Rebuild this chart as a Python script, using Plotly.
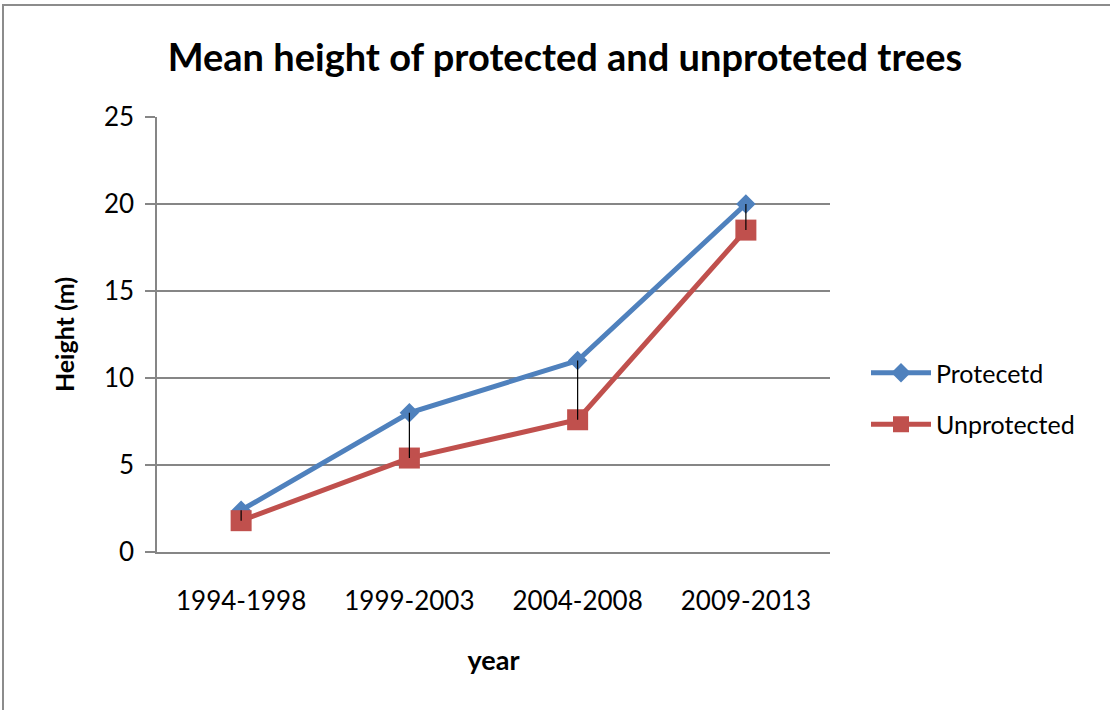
import plotly.graph_objects as go

categories = ["1994-1998", "1999-2003", "2004-2008", "2009-2013"]
protected = [2.4, 8.0, 11.0, 20.0]
unprotected = [1.8, 5.4, 7.6, 18.5]
y_ticks = [0, 5, 10, 15, 20, 25]

FONT = "Lato"
BLUE = "#4F81BD"
RED = "#C0504D"
GRID = "#868686"

fig = go.Figure()

fig.add_trace(go.Scatter(
    x=categories, y=protected, name="Protecetd", mode="lines+markers",
    line=dict(color=BLUE, width=5),
    marker=dict(symbol="diamond", size=15, color=BLUE),
    legendgroup="p",
))
fig.add_trace(go.Scatter(
    x=categories, y=unprotected, name="Unprotected", mode="lines+markers",
    line=dict(color=RED, width=5),
    marker=dict(symbol="square", size=21, color=RED),
    legendgroup="u",
))

# high-low lines connecting the two series
hx, hy = [], []
for c, p, u in zip(categories, protected, unprotected):
    hx += [c, c, None]
    hy += [p, u, None]
fig.add_trace(go.Scatter(
    x=hx, y=hy, mode="lines", line=dict(color="black", width=1.2),
    showlegend=False, hoverinfo="skip",
))

L, R, T, B = 157, 280, 117, 158
W, H = 1110, 710
pw, ph = W - L - R, H - T - B

fig.add_shape(
    type="rect", xref="paper", yref="paper",
    x0=(3 - L) / pw, x1=(W + 40 - L) / pw,
    y0=(H - B - (H + 40)) / ph, y1=(H - B - 5) / ph,
    line=dict(color="#8C8C8C", width=2), fillcolor="rgba(0,0,0,0)",
    layer="below",
)

fig.update_layout(
    width=W, height=H,
    margin=dict(l=L, r=R, t=T, b=B),
    paper_bgcolor="white", plot_bgcolor="white",
    font=dict(family=FONT, color="#000000", size=26),
    title=dict(
        text="<b>Mean height of protected and unproteted trees</b>",
        x=565 / W, xanchor="center", y=1 - 58 / H, yanchor="middle",
        font=dict(size=38, family=FONT, color="#000000"),
    ),
    showlegend=True,
    legend=dict(
        x=(866 - L) / pw, xanchor="left",
        y=(H - B - 350) / ph, yanchor="top",
        font=dict(size=25, family=FONT, color="#000000"),
        traceorder="grouped", tracegroupgap=16,
        bgcolor="rgba(0,0,0,0)", itemwidth=60,
    ),
    xaxis=dict(
        type="category", range=[-0.5, 3.5],
        showgrid=False, showline=True, linecolor=GRID, linewidth=1.5,
        ticks="", ticklabelstandoff=25,
        tickfont=dict(size=26, family=FONT, color="#000000"),
        title=dict(text="<b>year</b>", font=dict(size=27, family=FONT, color="#000000"), standoff=36),
        automargin=False,
    ),
    yaxis=dict(
        range=[0, 25], tickvals=y_ticks, showgrid=True, gridcolor=GRID, gridwidth=1.5,
        showline=True, linecolor=GRID, linewidth=1.5,
        ticks="outside", ticklen=10, tickcolor=GRID, tickwidth=1.5,
        ticklabelstandoff=6,
        tickfont=dict(size=26, family=FONT, color="#000000"),
        title=dict(text="<b>Height (m)</b>", font=dict(size=25, family=FONT, color="#000000"), standoff=22),
        zeroline=False, automargin=False,
    ),
)

fig.write_html("out.html")
